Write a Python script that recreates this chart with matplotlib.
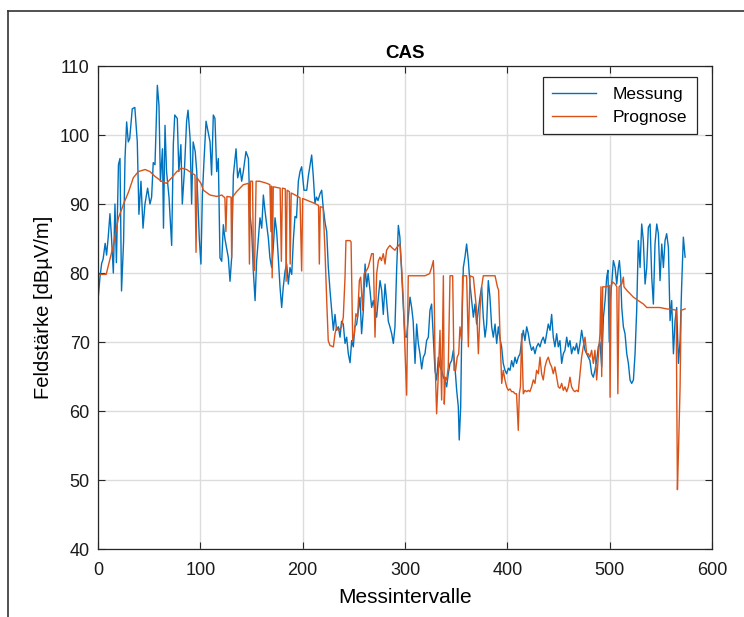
import numpy as np
import matplotlib
matplotlib.use("Agg")
import matplotlib.pyplot as plt
from matplotlib.lines import Line2D

plt.rcParams['font.family'] = ['Liberation Sans', 'DejaVu Sans']

# Messung: measured field strength per measuring interval
mess_x = [0, 2, 3.6, 5, 7, 8.4, 10, 11.7, 13, 15, 16.6, 18, 20, 21.5, 23, 25, 26.4, 28, 29.6, 31,
          33.5, 36, 38.4, 40, 42, 44, 45.9, 48.5, 50.8, 52.4, 54, 55.7, 58, 59.6, 61, 63, 64, 65.5, 67, 69.4,
          72, 73.6, 75, 77.5, 79, 81, 82.4, 84.4, 86.6, 88, 90, 91.5, 93, 95, 96.5, 99, 100.6, 102, 103.5, 105.6,
          108, 109.5, 111, 112.7, 114.3, 116, 117.6, 119.2, 120.9, 122.5, 124, 127.4, 129, 130.6, 132.3, 134.9, 136.5, 138.8, 140.4, 142,
          144.6, 147, 148.6, 150.2, 151.8, 153.5, 155, 156.7, 158.3, 160, 161.6, 163.2, 164.8, 166.5, 168, 169.7, 171.3, 173, 174.6, 176.2,
          177.9, 179.5, 181, 182.8, 184.4, 186, 187.6, 189.3, 191, 192.5, 194, 195.8, 197.4, 199, 201.3, 204, 205.5, 208.8, 210.4, 212,
          213.5, 215, 217, 218.6, 220, 222, 223.5, 225, 226.7, 228.3, 230, 231.6, 233.2, 234.9, 236.5, 238, 239.7, 241.4, 243, 244.6,
          246.3, 247.9, 249.5, 251, 252.8, 254.4, 256, 257.6, 259.3, 261, 262.5, 264, 265.8, 267.4, 269, 270.7, 272.3, 274, 275.6, 277.2,
          278.8, 280.5, 282, 283.7, 285.3, 287, 288.6, 290.2, 291.9, 293.5, 295, 296.7, 298.4, 300, 301.6, 303.2, 304.9, 306.5, 308, 309.8,
          311.4, 313, 314.6, 316.3, 317.9, 319.5, 321.1, 322.8, 324.4, 326, 327.7, 329.3, 330.9, 332.6, 334.2, 335.8, 337.5, 339, 340.7, 342.3,
          344, 345.6, 347.2, 348.8, 350.5, 352.1, 353, 354.4, 355.4, 357, 358.6, 360.2, 361.9, 363.5, 365.1, 366.8, 368.4, 370, 371.7, 373.3,
          374.9, 376.5, 378.2, 379.8, 381.4, 383, 384.7, 386.3, 388, 389.6, 391.2, 392.8, 394.4, 396, 397.7, 399.3, 401, 402.6, 404.2, 405.8,
          407.5, 409, 410.7, 412.4, 414, 415.6, 417.2, 418.9, 420.5, 422, 423.7, 425.4, 427, 428.6, 430.3, 431.9, 433.5, 435.1, 436.8, 438.4,
          440, 441.7, 443.3, 444.9, 446.5, 448.2, 449.8, 451.4, 453.1, 454.7, 456.3, 458, 459.6, 461.2, 462.8, 464.5, 466, 467.7, 469.3, 471,
          472.6, 474.2, 475.9, 477.5, 479.1, 480.7, 482.4, 484, 485.6, 487.3, 488.9, 490.5, 492.2, 493.9, 495.5, 497.1, 498.3, 499.6, 500.4, 502,
          503.6, 505.3, 506.9, 508.5, 509.5, 510.8, 511.8, 513.4, 515, 516.7, 518.3, 519.9, 521.5, 523.2, 524.8, 526.4, 528, 529.7, 531.3, 532.9,
          534.6, 536.2, 537.8, 539.5, 541.1, 542.7, 544.3, 546, 547.6, 549.2, 550.9, 552.5, 554.1, 555.7, 557.4, 559, 560.6, 562.3, 563.9, 565.5,
          567.2, 568.8, 570.4, 572, 573.7]
mess_y = [76.0, 79.5, 81.4, 82.0, 84.3, 82.6, 85.2, 88.6, 85.7, 80.0, 90.0, 81.5, 95.7, 96.6, 77.4, 84.5, 96.6, 101.9, 99.0, 99.5,
          103.8, 104.0, 99.0, 88.5, 93.3, 86.5, 90.0, 92.3, 90.0, 91.0, 96.0, 95.7, 107.2, 104.3, 93.3, 98.0, 86.5, 101.4, 94.7, 91.0,
          84.0, 98.6, 102.9, 102.4, 94.7, 98.6, 90.0, 94.7, 102.0, 103.6, 99.5, 90.0, 99.0, 97.6, 94.7, 85.0, 81.3, 91.3, 96.0, 102.0,
          100.2, 99.0, 94.2, 102.9, 102.4, 94.7, 96.6, 82.2, 81.7, 87.0, 85.0, 82.2, 78.8, 82.2, 94.2, 98.0, 93.8, 95.2, 93.3, 94.7,
          97.6, 96.6, 88.5, 86.0, 80.3, 76.0, 81.7, 85.0, 88.0, 86.5, 91.3, 89.0, 87.0, 85.0, 82.2, 80.8, 83.7, 88.0, 86.0, 82.2,
          77.9, 75.0, 77.9, 80.3, 81.3, 78.4, 80.8, 79.8, 85.0, 88.2, 88.0, 93.3, 94.7, 95.4, 92.0, 92.0, 94.0, 97.1, 94.0, 90.1,
          91.0, 90.5, 91.5, 92.0, 89.6, 87.2, 86.0, 81.0, 77.5, 74.6, 71.7, 74.0, 71.7, 72.2, 70.7, 73.0, 72.6, 69.8, 70.7, 68.3,
          67.0, 70.2, 69.3, 72.2, 72.6, 74.6, 76.5, 71.2, 74.6, 81.3, 78.0, 79.9, 77.5, 75.0, 76.0, 74.6, 73.6, 76.5, 78.9, 77.5,
          74.0, 78.4, 76.0, 73.0, 72.2, 71.2, 69.8, 72.2, 80.8, 86.9, 85.2, 80.0, 75.0, 70.8, 70.7, 73.6, 76.5, 75.0, 73.0, 66.9,
          72.6, 69.8, 68.3, 66.1, 67.8, 68.3, 70.2, 70.7, 74.6, 75.5, 70.7, 65.9, 64.5, 67.8, 66.4, 65.9, 64.9, 64.5, 63.5, 65.4,
          66.9, 67.3, 68.8, 66.4, 63.0, 60.6, 55.8, 60.6, 71.2, 80.8, 82.3, 84.2, 81.8, 78.4, 76.0, 73.6, 75.5, 72.6, 74.6, 76.5,
          78.0, 73.6, 70.7, 72.6, 78.9, 76.5, 72.2, 70.7, 72.6, 69.8, 72.2, 70.5, 69.3, 66.9, 65.9, 65.4, 66.2, 65.9, 67.3, 66.4,
          67.8, 66.9, 67.8, 68.3, 70.2, 71.7, 70.2, 72.2, 71.2, 69.8, 68.8, 69.3, 68.3, 69.3, 69.8, 69.3, 70.2, 70.7, 69.8, 71.2,
          72.6, 71.7, 74.0, 70.7, 69.3, 71.2, 69.3, 70.2, 66.9, 68.3, 68.8, 70.7, 69.3, 70.2, 68.3, 69.3, 68.8, 69.8, 68.3, 69.8,
          71.7, 70.2, 68.8, 68.3, 67.8, 67.3, 65.4, 64.9, 65.9, 67.3, 69.3, 70.0, 66.4, 73.6, 76.0, 79.4, 80.4, 70.0, 76.0, 78.4,
          81.8, 80.8, 78.4, 80.8, 81.8, 79.4, 75.0, 72.2, 71.2, 68.3, 66.9, 64.5, 64.0, 64.5, 68.3, 74.6, 84.7, 80.8, 87.1, 84.7,
          78.4, 80.8, 86.6, 87.1, 79.4, 75.5, 84.2, 87.1, 85.7, 78.9, 84.2, 80.8, 84.7, 85.7, 83.7, 73.1, 76.0, 68.3, 73.1, 75.0,
          66.9, 70.2, 78.4, 85.2, 82.3]

# Prognose: predicted field strength
prog_x = [0, 8, 10, 12.5, 15, 17.5, 20, 22.5, 25, 30, 34.5, 39.4, 46, 50.8, 55.7, 62, 67, 72, 77, 81.7,
          86.6, 91.5, 94.8, 95.8, 96.8, 100.6, 103, 109.5, 116, 121, 124, 125, 126, 130, 130.6, 131.4, 135.5, 142, 147, 148,
          149, 151, 152, 153, 154.5, 158, 165, 168, 169, 169.6, 170.2, 171.3, 178, 179.2, 180.2, 183, 183.8, 184.8, 187, 187.8,
          188.8, 194, 197.4, 199, 200, 210, 215.5, 216.3, 217.2, 220, 221.8, 223.5, 225, 226.7, 230, 231.6, 233.2, 234.9, 238, 239.7,
          241.4, 242.3, 246.3, 247.3, 248.9, 250.5, 252, 253.7, 255.4, 256.7, 258.6, 260, 262.5, 264, 265.8, 267.4, 269, 270.7, 272.3, 274,
          275.6, 277, 278.8, 280.5, 282, 283.7, 285.3, 287, 290.2, 291.9, 295, 296.7, 298.4, 300, 301.6, 303.2, 308, 319.5, 324, 326,
          327.7, 328.3, 329.3, 330.9, 332.6, 334.2, 335.8, 337.5, 338.4, 339.4, 340.7, 342.3, 344, 346.6, 347.9, 349.5, 351, 352.5, 353.7, 355.4,
          356.3, 360.2, 361.9, 363.5, 366.8, 368.4, 370, 371.7, 373.3, 374.9, 376.5, 386.3, 388, 389, 390.3, 391.5, 392.8, 394.5, 396, 397.7,
          399.3, 401, 402.6, 404.2, 405.8, 407.5, 409, 410.7, 411.7, 412.8, 414, 415, 415.6, 417.2, 418.9, 420.5, 422, 423.7, 425.4, 427,
          428.6, 430.3, 431.9, 433.5, 435.1, 436.8, 438.4, 440, 441.7, 443.3, 444.9, 446.5, 448.2, 449.8, 451.4, 453.1, 454.7, 456.3, 458, 459.6,
          461.2, 462.8, 464.5, 466, 467.7, 469.3, 471, 472.6, 474.2, 475.9, 477.5, 479.1, 480.7, 482.4, 484, 485.6, 487.3, 488.9, 490.5, 491.5,
          492.2, 493.2, 497, 499.7, 500.4, 501.4, 503, 505.3, 507, 508, 509.2, 511.8, 513.4, 514, 516.7, 519.9, 523.2, 528, 533, 536.2,
          542.7, 549, 555.7, 562.3, 565, 566.2, 567.2, 568.8, 569.8, 573.7]
prog_y = [79.8, 79.8, 81.0, 82.5, 84.0, 86.0, 88.0, 89.0, 90.0, 91.8, 93.8, 94.7, 95.0, 94.7, 94.0, 93.3, 93.0, 93.8, 94.7, 95.2,
          95.0, 94.5, 94.2, 83.0, 93.8, 93.0, 92.0, 91.3, 91.1, 91.3, 90.9, 86.0, 91.1, 91.0, 82.2, 91.0, 91.8, 92.8, 93.0, 81.3,
          93.3, 93.3, 80.3, 80.5, 93.3, 93.3, 93.0, 92.8, 86.0, 92.6, 79.3, 92.5, 92.3, 81.7, 92.3, 92.2, 78.8, 92.0, 91.8, 81.3,
          91.6, 91.2, 90.9, 80.3, 90.8, 90.2, 89.8, 81.3, 89.6, 89.5, 83.3, 76.0, 70.2, 69.5, 69.3, 71.2, 72.2, 71.7, 72.2, 73.6,
          79.4, 84.7, 84.7, 84.5, 70.2, 71.2, 74.1, 73.6, 78.9, 79.4, 74.6, 79.9, 80.4, 80.8, 81.8, 82.8, 82.8, 70.7, 79.9, 81.8,
          82.3, 81.8, 82.8, 81.3, 83.3, 83.7, 84.0, 83.7, 83.3, 83.7, 84.2, 80.8, 76.0, 68.8, 62.3, 79.6, 79.6, 79.6, 79.9, 80.8,
          81.8, 79.5, 67.8, 59.6, 65.4, 71.7, 61.6, 79.6, 61.0, 64.9, 64.5, 66.4, 79.6, 79.6, 65.9, 65.9, 67.8, 68.3, 72.2, 70.2,
          79.6, 79.6, 69.3, 79.6, 79.4, 77.0, 74.6, 68.3, 74.6, 78.0, 79.6, 79.6, 79.6, 78.9, 78.0, 77.5, 71.2, 64.0, 65.9, 64.5,
          63.5, 63.0, 63.2, 62.8, 62.8, 62.5, 62.5, 57.2, 62.5, 63.5, 71.2, 65.4, 62.5, 63.0, 62.8, 63.0, 62.8, 63.5, 64.5, 64.0,
          65.9, 65.4, 67.8, 65.4, 64.5, 66.4, 67.3, 67.8, 66.9, 66.4, 65.4, 66.4, 64.9, 63.5, 63.3, 64.0, 63.0, 63.5, 62.8, 63.5,
          64.9, 63.5, 63.0, 62.8, 63.0, 62.8, 65.4, 67.8, 69.3, 70.7, 68.3, 68.3, 67.8, 68.8, 66.9, 68.8, 64.5, 67.8, 71.2, 78.0,
          65.0, 78.0, 78.0, 78.2, 62.0, 78.2, 78.7, 78.4, 78.0, 62.5, 78.0, 78.4, 79.4, 78.0, 77.5, 77.0, 76.5, 76.0, 75.5, 75.0,
          75.0, 75.0, 74.8, 74.7, 74.6, 48.6, 53.9, 63.5, 74.6, 74.8]

x_ticks = [0, 100, 200, 300, 400, 500, 600]
y_ticks = [40, 50, 60, 70, 80, 90, 100, 110]

fig = plt.figure(figsize=(7.44, 6.17), dpi=100)
ax = fig.add_axes([0.1317, 0.1102, 0.8253, 0.7828])

ax.plot(mess_x, mess_y, color='#0072BD', lw=1.0, label='Messung')
ax.plot(prog_x, prog_y, color='#D95319', lw=1.0, label='Prognose')

ax.set_xlim(0, 600)
ax.set_ylim(40, 110)
ax.set_xticks(x_ticks)
ax.set_yticks(y_ticks)
ax.grid(True, color='#dcdcdc', lw=1.0)
ax.set_axisbelow(True)

ax.tick_params(direction='in', length=5, width=0.8, color='#262626',
               top=True, right=True, labelsize=13, pad=6, labelcolor='#1a1a1a')
ax.tick_params(axis='x', pad=9)
for s in ax.spines.values():
    s.set_color('#262626')
    s.set_linewidth(0.9)

ax.set_title('CAS', fontsize=13.5, fontweight='bold', pad=6)
ax.set_xlabel('Messintervalle', fontsize=15, labelpad=7)
ax.set_ylabel('Feldstärke [dBµV/m]', fontsize=14.5, labelpad=4.5)

leg = ax.legend(loc='upper right', bbox_to_anchor=(0.9756, 0.977), borderaxespad=0,
                fontsize=12.5, handlelength=2.5, handletextpad=1.0, fancybox=False, framealpha=1,
                edgecolor='#262626', labelspacing=0.45, borderpad=0.55)
leg.get_frame().set_linewidth(0.9)

# outer frame around the figure (top and left edges)
fig.add_artist(Line2D([0.0108, 1.0], [0.9822, 0.9822], transform=fig.transFigure, color='#333333', lw=1.2))
fig.add_artist(Line2D([0.0108, 0.0108], [0.0, 0.9822], transform=fig.transFigure, color='#333333', lw=1.2))

fig.savefig('out.png', dpi=100)
